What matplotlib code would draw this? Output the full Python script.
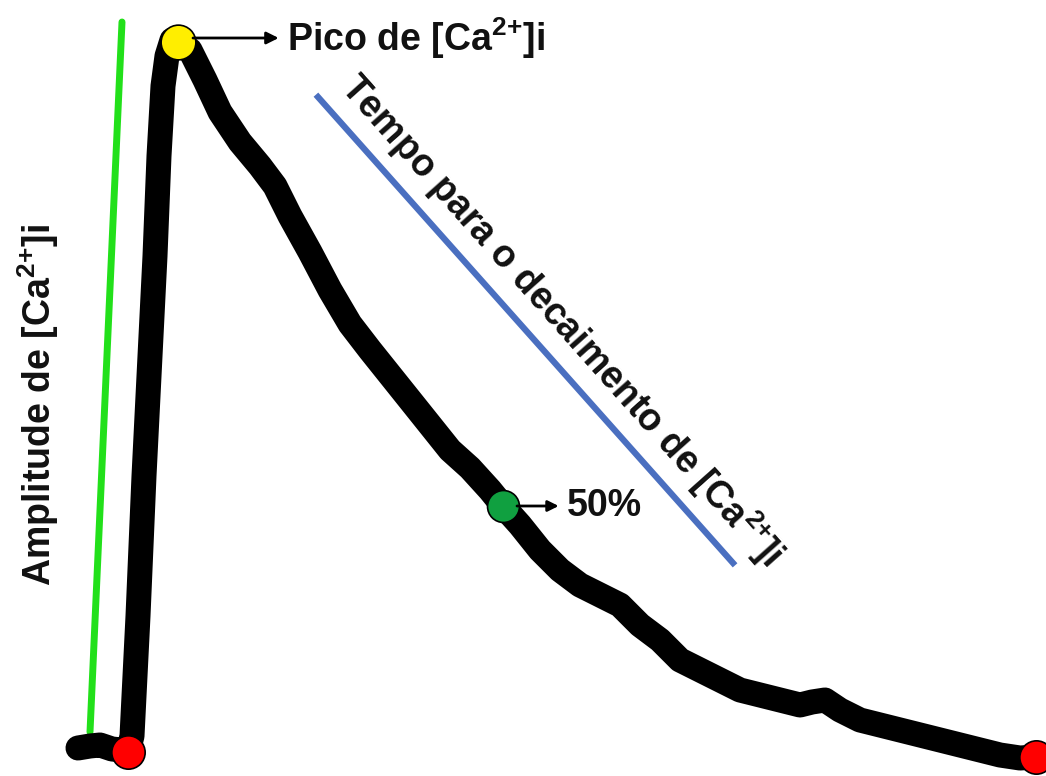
import matplotlib
matplotlib.use('Agg')
import matplotlib.pyplot as plt
import numpy as np

# trace of the calcium transient (time in px units, signal height)
TIME = [78, 90, 100, 112, 122, 128, 132, 138, 144, 150, 155, 159, 163, 167, 172, 178,
        190, 205, 220, 240, 260, 275, 290, 310, 330, 350, 370, 390, 410, 430, 450,
        470, 490, 503, 520, 540, 560, 580, 600, 620, 640, 660, 680, 700, 720, 740,
        760, 780, 800, 812, 825, 840, 860, 880, 900, 920, 940, 960, 980, 1000, 1020, 1036]
SIGNAL = [28, 30, 31, 27, 26, 24, 40, 160, 300, 420, 520, 620, 690, 720, 736, 734,
          726, 696, 664, 634, 610, 590, 560, 524, 486, 452, 426, 401, 376, 351, 326,
          308, 286, 270, 251, 226, 206, 191, 181, 171, 151, 136, 116, 106, 96, 86,
          81, 76, 71, 74, 76, 66, 56, 51, 46, 41, 36, 31, 26, 21, 18, 19]

RISE_START = 5
PEAK = 15
HALF = 33
END = len(TIME) - 1

AMP_LINE_X = [122, 90]
AMP_LINE_Y = [754, 44]
DECAY_LINE_X = [318, 733]
DECAY_LINE_Y = [679, 213]

plt.rcParams['font.family'] = ['Liberation Sans', 'DejaVu Sans']
plt.rcParams['mathtext.fontset'] = 'custom'
plt.rcParams['mathtext.rm'] = 'Liberation Sans:bold'
plt.rcParams['mathtext.bf'] = 'Liberation Sans:bold'

CA = '[Ca$^{2{+}}$]i'

fig = plt.figure(figsize=(10.46, 7.76), dpi=100)
ax = fig.add_axes([0, 0, 1, 1])
ax.set_xlim(0, 1046)
ax.set_ylim(0, 776)
ax.axis('off')

ax.plot(TIME, SIGNAL, color='black', lw=18, solid_capstyle='round',
        solid_joinstyle='round', zorder=2)
ax.plot(AMP_LINE_X, AMP_LINE_Y, color='#22e01a', lw=5, solid_capstyle='round', zorder=1)
ax.plot(DECAY_LINE_X, DECAY_LINE_Y, color='#4a6fc0', lw=4.5, zorder=1)

ax.plot(TIME[RISE_START], SIGNAL[RISE_START], 'o', ms=24, mfc='#ff0000', mec='black', mew=1.2, zorder=3)
ax.plot(TIME[END], SIGNAL[END], 'o', ms=24, mfc='#ff0000', mec='black', mew=1.2, zorder=3)
ax.plot(TIME[PEAK], SIGNAL[PEAK], 'o', ms=25, mfc='#ffee00', mec='black', mew=1.2, zorder=3)
ax.plot(TIME[HALF], SIGNAL[HALF], 'o', ms=23, mfc='#10a040', mec='black', mew=1.2, zorder=3)

ax.annotate('Pico de ' + CA, xy=(TIME[PEAK] + 15, SIGNAL[PEAK] + 4),
            xytext=(287, SIGNAL[PEAK] + 4), va='center', ha='left',
            fontsize=27, fontweight='bold', color='#111111',
            arrowprops=dict(arrowstyle='<|-', color='black', lw=2, mutation_scale=18,
                            shrinkA=4, shrinkB=0))
ax.annotate('50%', xy=(TIME[HALF] + 14, SIGNAL[HALF]),
            xytext=(567, SIGNAL[HALF]), va='center', ha='left',
            fontsize=27, fontweight='bold', color='#111111',
            arrowprops=dict(arrowstyle='<|-', color='black', lw=2, mutation_scale=16,
                            shrinkA=4, shrinkB=0))

ax.text(38, 371, 'Amplitude de ' + CA, rotation=90, ha='center', va='center',
        fontsize=27, fontweight='bold', color='#111111')
ax.text(562, 456, 'Tempo para o decaimento de ' + CA, rotation=-48.3,
        rotation_mode='anchor', ha='center', va='center', fontsize=27,
        fontweight='bold', color='#111111')

fig.savefig('out.png', dpi=100)
